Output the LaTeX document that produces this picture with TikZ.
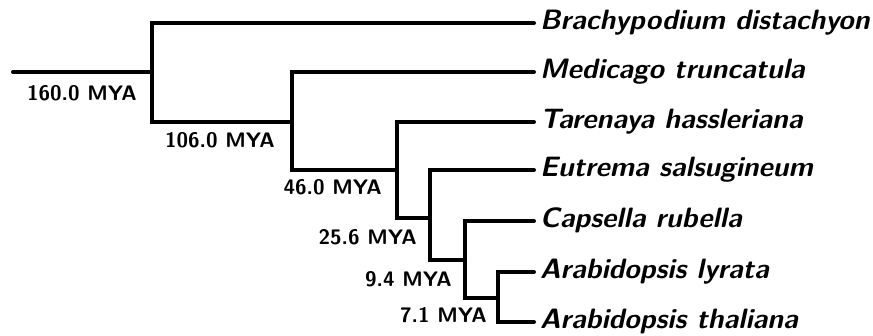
\documentclass[tikz,border=0pt]{standalone}
\begin{document}
\begin{tikzpicture}[x=1pt,y=-1pt,
  branch/.style={line width=4pt,line cap=round,line join=miter},
  taxon/.style={anchor=west,inner sep=0pt,text height=21pt,text depth=7pt,
    font=\fontsize{28}{32}\selectfont\sffamily\bfseries\slshape},
  age/.style={anchor=base east,inner sep=0pt,font=\fontsize{21}{24}\selectfont\sffamily\bfseries}]
\useasboundingbox (0,0) rectangle (873,336);
% leaves
\node[taxon] (bd) at (540,23) {Brachypodium distachyon};
\node[taxon] (mt) at (540,72) {Medicago truncatula};
\node[taxon] (th) at (540,122) {Tarenaya hassleriana};
\node[taxon] (es) at (540,170) {Eutrema salsugineum};
\node[taxon] (cr) at (540,221) {Capsella rubella};
\node[taxon] (al) at (540,272) {Arabidopsis lyrata};
\node[taxon] (at) at (540,322) {Arabidopsis thaliana};
% internal nodes
\coordinate (root) at (13,72);
\coordinate (n1) at (152,72);
\coordinate (n2) at (292,122);
\coordinate (n3) at (397,170);
\coordinate (n4) at (430,218);
\coordinate (n5) at (465,260);
\coordinate (n6) at (498,298);
% branches
\draw[branch] (root) -- (n1);
\draw[branch] (bd.west) ++(-6,0) -| (n1) |- (n2);
\draw[branch] (mt.west) ++(-6,0) -| (n2) |- (n3);
\draw[branch] (th.west) ++(-6,0) -| (n3) |- (n4);
\draw[branch] (es.west) ++(-6,0) -| (n4) |- (n5);
\draw[branch] (cr.west) ++(-6,0) -| (n5) |- (n6);
\draw[branch] (al.west) ++(-6,0) -| (n6) |- ([xshift=-6pt]at.west);
% divergence times
\node[age] (a1) at (137,101) {160.0 MYA};
\node[age] (a2) at (275,148) {106.0 MYA};
\node[age] (a3) at (382,195) {46.0 MYA};
\node[age] (a4) at (417,245) {25.6 MYA};
\node[age] (a5) at (452,287) {9.4 MYA};
\node[age] (a6) at (487,323) {7.1 MYA};
\end{tikzpicture}
\end{document}
